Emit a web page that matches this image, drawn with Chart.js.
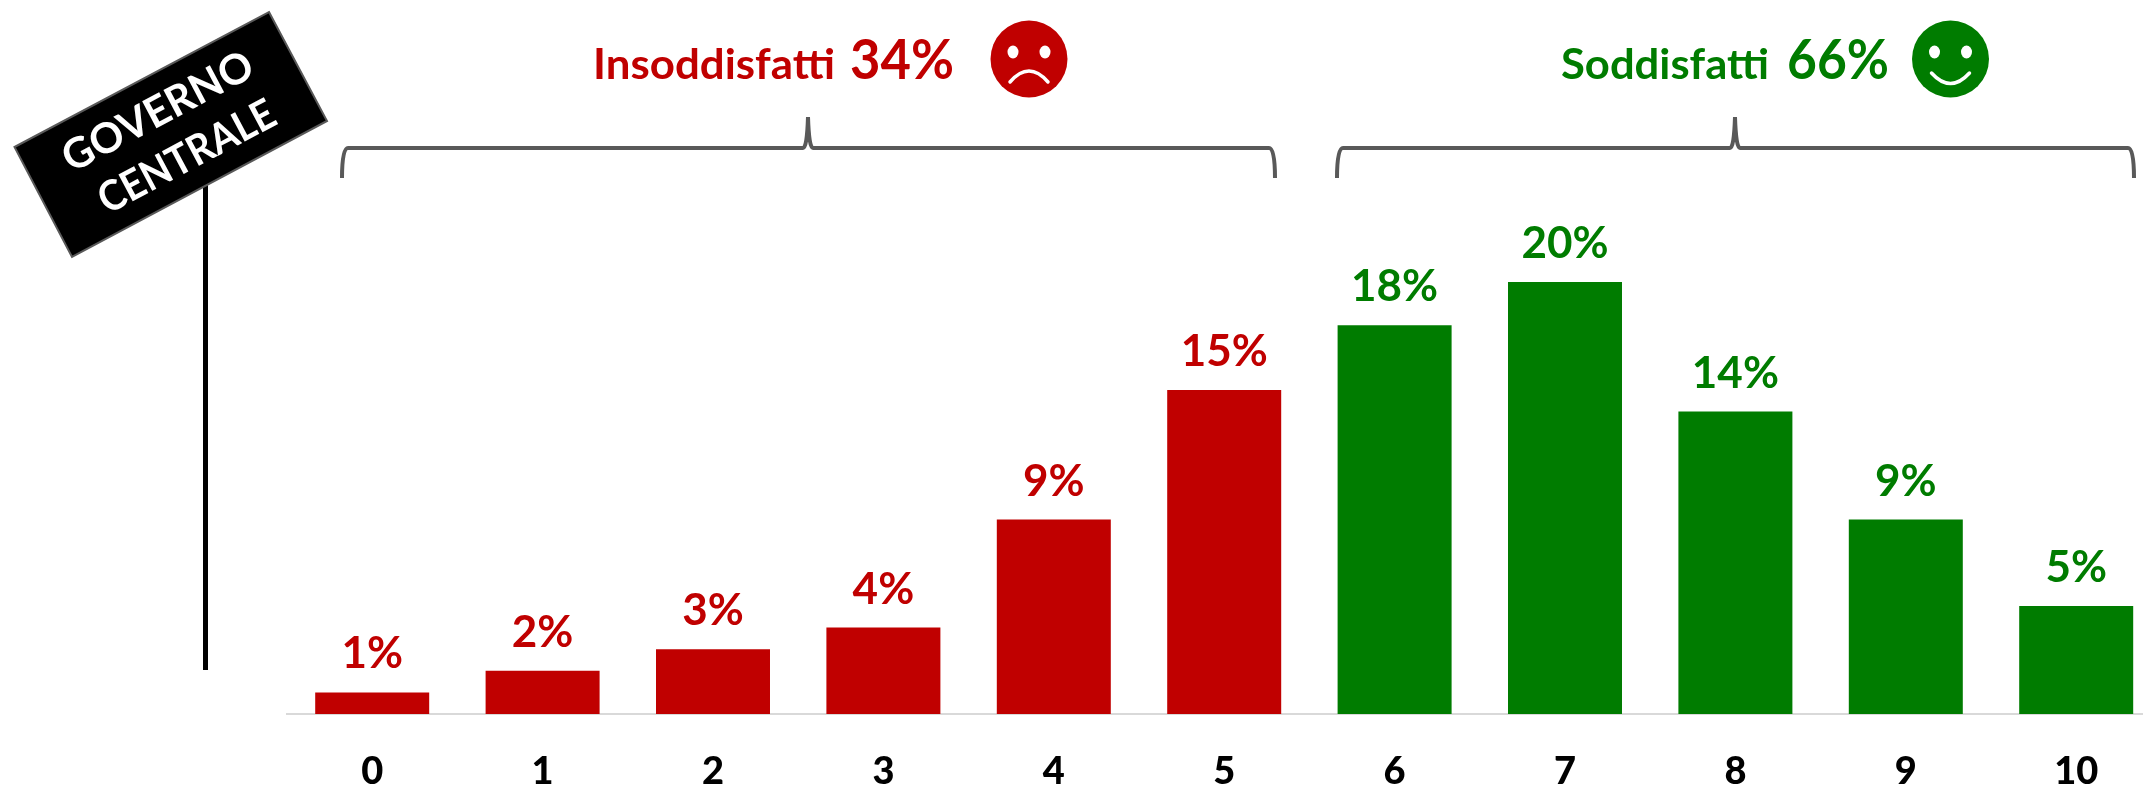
<!DOCTYPE html>
<html><head><meta charset="utf-8">
<script src="https://cdn.jsdelivr.net/npm/chart.js@4"></script>
<style>html,body{margin:0;padding:0;background:#fff;overflow:hidden;width:2143px;height:788px}
#w{position:relative;width:2170px;height:788px}</style></head>
<body><div id="w"><canvas id="c" width="2170" height="788"></canvas></div>
<script>
const categories = ['0','1','2','3','4','5','6','7','8','9','10'];
const values = [1,2,3,4,9,15,18,20,14,9,5];
const RED = '#C00000', GREEN = '#007C00';
const barColors = ['r','r','r','r','r','r','g','g','g','g','g'].map(k => k === 'r' ? RED : GREEN);
const groupTitles = ['Insoddisfatti','Soddisfatti'];
const groupTotals = ['34%','66%'];
const signLines = ['GOVERNO','CENTRALE'];
const FONT = 'Lato, sans-serif';

function brace(ctx, l, r, mid) {
  const top = 148, bot = 178, tip = 117;
  ctx.beginPath();
  ctx.moveTo(l, bot);
  ctx.quadraticCurveTo(l, top, l + 6, top);
  ctx.lineTo(mid - 5, top);
  ctx.quadraticCurveTo(mid - 1, top, mid, tip);
  ctx.quadraticCurveTo(mid + 1, top, mid + 5, top);
  ctx.lineTo(r - 6, top);
  ctx.quadraticCurveTo(r, top, r, bot);
  ctx.strokeStyle = '#595959'; ctx.lineWidth = 4; ctx.stroke();
}
function fitText(ctx, txt, x0, x1, base, size, color) {
  ctx.save();
  ctx.font = '700 ' + size + 'px ' + FONT;
  ctx.fillStyle = color; ctx.textAlign = 'left'; ctx.textBaseline = 'alphabetic';
  const w = ctx.measureText(txt).width;
  ctx.translate(x0, base); ctx.scale((x1 - x0) / w, 1);
  ctx.fillText(txt, 0, 0);
  ctx.restore();
}
function face(ctx, cx, cy, r, color, happy) {
  ctx.fillStyle = color;
  ctx.beginPath(); ctx.arc(cx, cy, r, 0, Math.PI * 2); ctx.fill();
  ctx.fillStyle = '#fff';
  [-16, 16].forEach(d => { ctx.beginPath(); ctx.ellipse(cx + d, cy - 7, 5.5, 6.5, 0, 0, Math.PI * 2); ctx.fill(); });
  ctx.strokeStyle = '#fff'; ctx.lineWidth = 3.5; ctx.lineCap = 'round';
  ctx.beginPath();
  if (happy) { ctx.moveTo(cx - 19, cy + 14); ctx.quadraticCurveTo(cx, cy + 35, cx + 19, cy + 14); }
  else { ctx.moveTo(cx - 19, cy + 23); ctx.quadraticCurveTo(cx, cy + 1, cx + 19, cy + 23); }
  ctx.stroke(); ctx.lineCap = 'butt';
}
const decorations = {
  id: 'decorations',
  afterDatasetsDraw(chart) {
    const ctx = chart.ctx;
    ctx.save();
    const meta = chart.getDatasetMeta(0);
    meta.data.forEach((bar, i) => {
      ctx.font = '700 44px ' + FONT;
      ctx.fillStyle = barColors[i]; ctx.textAlign = 'center'; ctx.textBaseline = 'alphabetic';
      ctx.fillText(values[i] + '%', bar.x, bar.y - 24);
    });
    ctx.fillStyle = '#000'; ctx.fillRect(203, 180, 5, 490);
    ctx.beginPath(); ctx.moveTo(269, 12); ctx.lineTo(327, 121); ctx.lineTo(72, 257); ctx.lineTo(14.5, 147); ctx.closePath();
    ctx.fillStyle = '#000'; ctx.fill(); ctx.strokeStyle = '#595959'; ctx.lineWidth = 2; ctx.stroke();
    ctx.fillStyle = '#fff'; ctx.font = '700 42px ' + FONT; ctx.textAlign = 'center'; ctx.textBaseline = 'middle';
    [[158, 112, 1], [187, 157, 0.92]].forEach((p, i) => {
      ctx.save(); ctx.translate(p[0], p[1]); ctx.rotate(-28 * Math.PI / 180); ctx.scale(p[2], 1);
      ctx.fillText(signLines[i], 0, 0); ctx.restore();
    });
    brace(ctx, 342, 1275, 808);
    brace(ctx, 1337, 2134, 1735);
    fitText(ctx, groupTitles[0], 593, 835, 79, 42, RED);
    fitText(ctx, groupTotals[0], 850, 954, 79, 55, RED);
    fitText(ctx, groupTitles[1], 1561, 1769, 79, 42, GREEN);
    fitText(ctx, groupTotals[1], 1787, 1889, 79, 55, GREEN);
    face(ctx, 1029, 59, 38.5, RED, false);
    face(ctx, 1950.5, 59, 38.5, GREEN, true);
    ctx.restore();
  }
};
new Chart(document.getElementById('c'), {
  type: 'bar',
  data: { labels: categories, datasets: [{ data: values, backgroundColor: barColors, borderWidth: 0, barPercentage: 0.669, categoryPercentage: 1 }] },
  options: {
    responsive: false, animation: false, events: [],
    layout: { padding: { left: 287, right: 8.6, top: 22.8, bottom: 0 } },
    plugins: { legend: { display: false }, tooltip: { enabled: false }, title: { display: false } },
    scales: {
      y: { display: false, min: 0, max: 32 },
      x: {
        grid: { display: false, drawTicks: false },
        border: { display: true, color: '#D9D9D9', width: 2 },
        ticks: { color: '#000', font: { family: FONT, size: 38, weight: '900' }, padding: 35, maxRotation: 0, autoSkip: false },
        afterFit(s) { s.height = 74; }
      }
    }
  },
  plugins: [decorations]
});
</script></body></html>
